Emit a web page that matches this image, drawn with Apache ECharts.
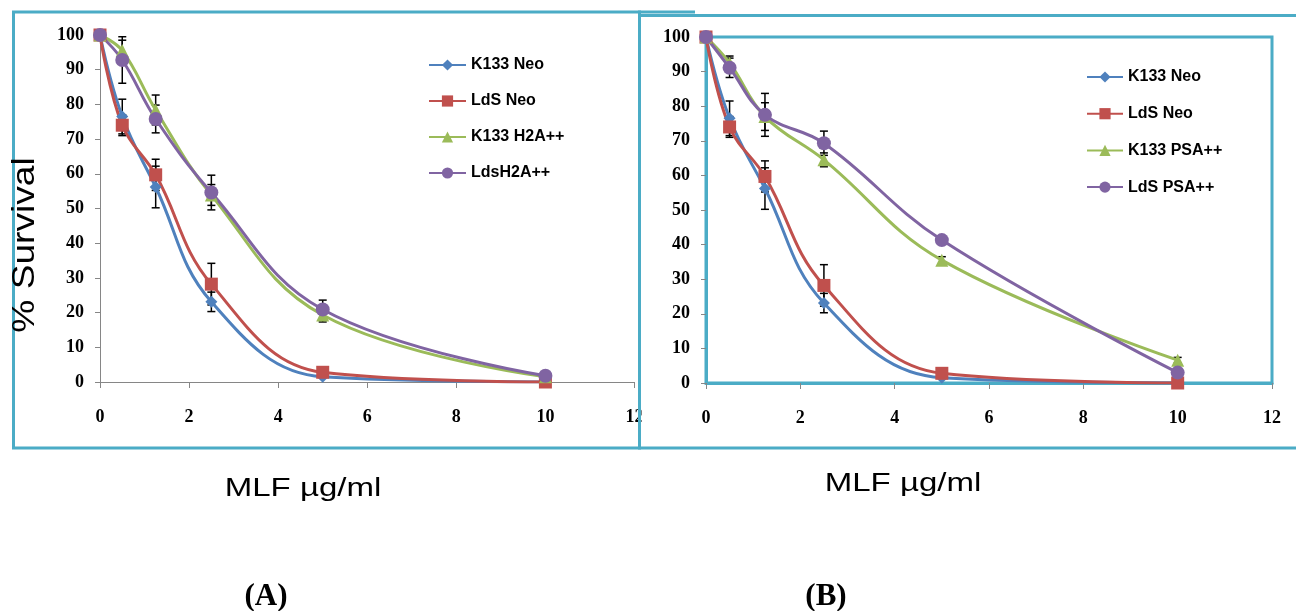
<!DOCTYPE html>
<html>
<head>
<meta charset="utf-8">
<script src="https://cdn.jsdelivr.net/npm/echarts@6/dist/echarts.min.js"></script>
<style>html,body{margin:0;padding:0;background:#fff}#c{width:1296px;height:611px}</style>
</head>
<body>
<div id="c"></div>
<script>
// ---- data ----
const doses = [0, 0.5, 1.25, 2.5, 5, 10];
const xTicks = [0, 2, 4, 6, 8, 10, 12];
const yTicks = [0, 10, 20, 30, 40, 50, 60, 70, 80, 90, 100];

const namesA = ['K133 Neo', 'LdS Neo', 'K133 H2A++', 'LdsH2A++'];
const namesB = ['K133 Neo', 'LdS Neo', 'K133 PSA++', 'LdS PSA++'];

const k133Neo = [100, 76.5, 56.2, 23.1, 1.5, 0];
const ldsNeo = [100, 74, 59.7, 28.2, 2.8, 0];
const k133H2A = [100, 95.5, 78.4, 53.9, 19.3, 1.5];
const ldsH2A = [100, 92.8, 75.8, 54.6, 20.9, 1.8];
const k133PSA = [100, 92.5, 77, 64.5, 35.5, 6.6];
const ldsPSA = [100, 91.1, 77.5, 69.3, 41.3, 3.0];

const errK133Neo = [0, 5, 6, 2.8, 0, 0];
const errLdsNeo = [0, 3, 4.5, 6, 0.8, 0];
const errK133H2A = [0, 3, 4.3, 3, 2, 0];
const errLdsH2A = [0, 6.7, 4, 5, 2.7, 0];
const errK133PSA = [0, 2, 4, 2, 1, 0.8];
const errLdsPSA = [0, 2.8, 6.2, 3.5, 1, 0];

// ---- styles ----
const colors = ['#4F81BD', '#C0504D', '#9BBB59', '#8064A2'];
const symbols = ['diamond', 'rect', 'triangle', 'circle'];
const symSizes = [12, 13, 13, 14];
const cyan = '#4BACC6';
const tickFont = { fontFamily: 'Liberation Serif', fontWeight: 'bold', fontSize: 18, color: '#000' };

function pairs(ys) { return doses.map((x, i) => [x, ys[i]]); }
function errPairs(ys, es) { return doses.map((x, i) => [x, ys[i], es[i]]); }

function errRender(params, api) {
  const x = api.value(0), y = api.value(1), e = api.value(2);
  if (!(e > 0)) return null;
  const t = api.coord([x, y + e]);
  const b = api.coord([x, y - e]);
  const w = 4;
  const st = { stroke: '#000', lineWidth: 1.5 };
  return {
    type: 'group',
    children: [
      { type: 'line', shape: { x1: t[0], y1: t[1], x2: b[0], y2: b[1] }, style: st },
      { type: 'line', shape: { x1: t[0] - w, y1: t[1], x2: t[0] + w, y2: t[1] }, style: st },
      { type: 'line', shape: { x1: b[0] - w, y1: b[1], x2: b[0] + w, y2: b[1] }, style: st }
    ]
  };
}

function xAxis(grid, lineColor, lineWidth) {
  return {
    type: 'value', gridIndex: grid, min: 0, max: 12, interval: 2,
    axisLine: { show: true, onZero: false, lineStyle: { color: lineColor, width: lineWidth } },
    axisTick: { show: true, length: 6, lineStyle: { color: '#868686' } },
    splitLine: { show: false },
    axisLabel: Object.assign({ margin: 26, formatter: v => xTicks.includes(v) ? String(v) : '' }, tickFont)
  };
}
function yAxis(grid, lineColor, lineWidth) {
  return {
    type: 'value', gridIndex: grid, min: 0, max: 100, interval: 10,
    axisLine: { show: true, lineStyle: { color: lineColor, width: lineWidth } },
    axisTick: { show: true, length: 5, lineStyle: { color: '#868686' } },
    splitLine: { show: false },
    axisLabel: Object.assign({ margin: 16, formatter: v => yTicks.includes(v) ? String(v) : '' }, tickFont)
  };
}

const series = [];
function addPanel(grid, names, ySets, eSets) {
  ySets.forEach((ys, i) => {
    series.push({
      type: 'custom', xAxisIndex: grid, yAxisIndex: grid, z: 1,
      data: errPairs(ys, eSets[i]), renderItem: errRender, encode: { x: 0, y: 1 },
      silent: true
    });
  });
  ySets.forEach((ys, i) => {
    series.push({
      type: 'line', name: names[i], xAxisIndex: grid, yAxisIndex: grid, z: 3,
      data: pairs(ys), smooth: 0.4,
      symbol: symbols[i], symbolSize: symSizes[i], showSymbol: true,
      itemStyle: { color: colors[i] }, lineStyle: { color: colors[i], width: 3 }
    });
  });
}
addPanel(0, namesA, [k133Neo, ldsNeo, k133H2A, ldsH2A], [errK133Neo, errLdsNeo, errK133H2A, errLdsH2A]);
addPanel(1, namesB, [k133Neo, ldsNeo, k133PSA, ldsPSA], [errK133Neo, errLdsNeo, errK133PSA, errLdsPSA]);

const legendText = { fontFamily: 'Liberation Sans', fontWeight: 'bold', fontSize: 16, color: '#000', lineHeight: 16 };

const option = {
  animation: false,
  backgroundColor: '#fff',
  grid: [
    { left: 100, right: 1296 - 634.5, top: 35, bottom: 611 - 382 },
    { left: 706, right: 1296 - 1272, top: 37, bottom: 611 - 383, show: true, borderColor: cyan, borderWidth: 3, backgroundColor: 'transparent' }
  ],
  xAxis: [xAxis(0, '#868686', 1), xAxis(1, cyan, 3)],
  yAxis: [yAxis(0, '#868686', 1), yAxis(1, cyan, 3)],
  legend: [
    { data: namesA, orient: 'vertical', left: 423, top: 52, itemWidth: 37, itemHeight: 14, itemGap: 20, textStyle: legendText, selectedMode: false },
    { data: namesB, orient: 'vertical', left: 1081, top: 64, itemWidth: 36, itemHeight: 14, itemGap: 20.7, textStyle: legendText, selectedMode: false }
  ],
  series: series,
  graphic: [
    { type: 'rect', z: 100, shape: { x: 641.5, y: 392, width: 57, height: 50 }, style: { fill: '#fff' } },
    { type: 'rect', z: 101, shape: { x: 13.5, y: 12, width: 626, height: 436 }, style: { fill: 'none', stroke: cyan, lineWidth: 3 } },
    { type: 'rect', z: 101, shape: { x: 639.5, y: 15.5, width: 700, height: 432.5 }, style: { fill: 'none', stroke: cyan, lineWidth: 3 } },
    { type: 'line', z: 101, shape: { x1: 638, y1: 12, x2: 695, y2: 12 }, style: { stroke: cyan, lineWidth: 3 } },
    { type: 'text', z: 102, x: 25, y: 245, rotation: Math.PI / 2, scaleX: 1.16,
      style: { text: '% Survival', font: '32px "Liberation Sans"', fill: '#000', align: 'center', verticalAlign: 'middle' } },
    { type: 'text', z: 102, x: 303, y: 489, scaleX: 1.32,
      style: { text: 'MLF µg/ml', font: '25px "Liberation Sans"', fill: '#000', align: 'center', verticalAlign: 'middle' } },
    { type: 'text', z: 102, x: 903, y: 484, scaleX: 1.32,
      style: { text: 'MLF µg/ml', font: '25px "Liberation Sans"', fill: '#000', align: 'center', verticalAlign: 'middle' } },
    { type: 'text', z: 102, x: 266, y: 597,
      style: { text: '(A)', font: 'bold 31px "Liberation Serif"', fill: '#000', align: 'center', verticalAlign: 'middle' } },
    { type: 'text', z: 102, x: 826, y: 597,
      style: { text: '(B)', font: 'bold 31px "Liberation Serif"', fill: '#000', align: 'center', verticalAlign: 'middle' } }
  ]
};
const chart = echarts.init(document.getElementById('c'), null, { renderer: 'canvas' });
chart.setOption(option);
</script>
</body>
</html>
